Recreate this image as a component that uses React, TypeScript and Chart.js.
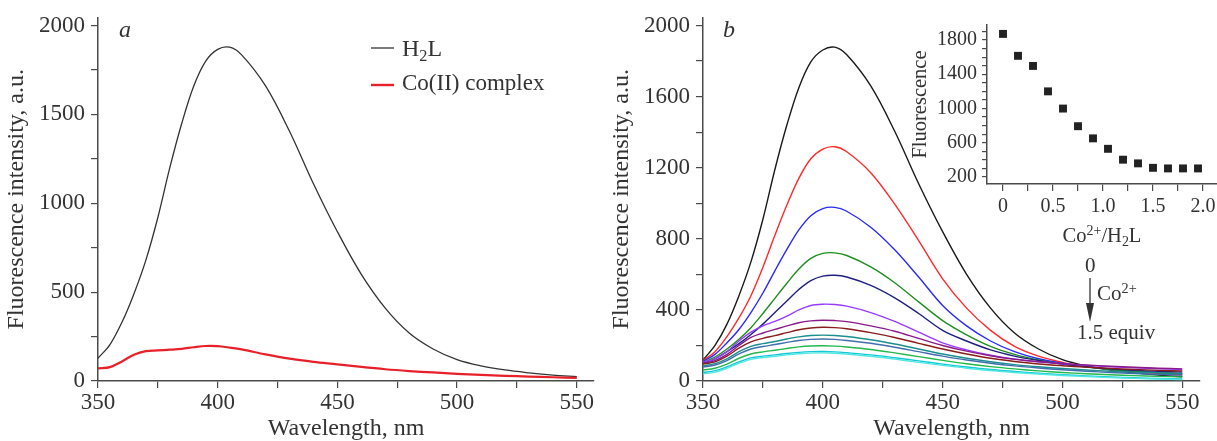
import React, { useEffect, useRef } from 'react';
import { Chart, registerables } from 'chart.js';

Chart.register(...registerables);

const FONT = '"Liberation Serif", "Times New Roman", serif';

// ---------- data ----------
const wavelengths = [350, 355, 360, 365, 370, 375, 380, 385, 390, 395, 400, 405, 410, 420, 430, 440, 450, 460, 470, 480, 490, 500, 510, 520, 530, 540, 550];

// panel a
const h2lSpectrum = [128, 205, 330, 490, 680, 920, 1200, 1450, 1660, 1800, 1866, 1878, 1835, 1660, 1405, 1110, 840, 600, 410, 270, 180, 120, 85, 62, 46, 33, 24];
const coComplexSpectrum = [71, 78, 110, 148, 168, 172, 176, 181, 190, 197, 196, 188, 178, 150, 126, 108, 94, 79, 66, 56, 48, 40, 34, 29, 25, 21, 18];

// panel b (titration spectra, 0 -> 1.5 equiv Co2+)
const titration0 = [118, 200, 320, 480, 670, 910, 1190, 1440, 1650, 1795, 1862, 1878, 1835, 1660, 1405, 1110, 840, 600, 410, 270, 180, 120, 85, 62, 46, 33, 24];
const titration1 = [115, 165, 250, 355, 480, 640, 820, 990, 1140, 1250, 1305, 1318, 1290, 1172, 995, 790, 575, 410, 285, 195, 140, 105, 82, 65, 52, 42, 35];
const titration2 = [110, 150, 215, 290, 385, 495, 620, 740, 850, 930, 970, 977, 955, 865, 738, 585, 425, 310, 225, 165, 125, 100, 80, 66, 55, 47, 40];
const titration3 = [105, 135, 180, 235, 300, 380, 465, 550, 630, 690, 718, 721, 706, 642, 553, 445, 340, 260, 195, 150, 118, 95, 78, 65, 55, 47, 40];
const titration4 = [100, 125, 165, 210, 262, 320, 385, 450, 515, 565, 590, 595, 585, 538, 468, 380, 285, 225, 175, 140, 115, 95, 80, 68, 60, 54, 50];
const titration5 = [105, 125, 165, 225, 275, 310, 335, 365, 400, 425, 432, 430, 421, 385, 335, 275, 215, 175, 145, 123, 108, 97, 88, 80, 74, 69, 65];
const titration6 = [100, 115, 150, 200, 245, 270, 290, 310, 328, 338, 342, 340, 334, 310, 280, 240, 200, 168, 142, 122, 108, 98, 90, 83, 77, 72, 68];
const titration7 = [95, 108, 140, 185, 220, 240, 255, 272, 288, 298, 302, 300, 294, 272, 245, 212, 180, 152, 128, 110, 96, 86, 78, 71, 65, 60, 56];
const titration8 = [85, 98, 125, 165, 195, 210, 222, 236, 248, 256, 258, 256, 250, 232, 208, 180, 152, 128, 108, 92, 80, 70, 62, 55, 50, 46, 43];
const titration9 = [78, 90, 115, 152, 180, 194, 205, 217, 228, 234, 236, 234, 228, 212, 190, 165, 140, 118, 100, 85, 73, 63, 55, 48, 42, 37, 33];
const titration10 = [62, 72, 95, 128, 152, 164, 173, 183, 192, 197, 198, 196, 191, 177, 158, 137, 116, 97, 81, 68, 57, 48, 41, 35, 30, 26, 23];
const titration11 = [48, 58, 80, 108, 130, 140, 147, 155, 161, 165, 166, 164, 159, 147, 131, 113, 95, 79, 65, 54, 44, 36, 29, 23, 18, 14, 11];
const titration12 = [40, 50, 72, 100, 122, 132, 139, 147, 153, 157, 158, 156, 151, 139, 123, 105, 88, 72, 59, 48, 39, 31, 25, 19, 15, 11, 8];

const titrationSeries = [titration0, titration1, titration2, titration3, titration4, titration5, titration6, titration7, titration8, titration9, titration10, titration11, titration12];
const titrationColors = ['#1a1a1a', '#ff2a2a', '#2a2aff', '#1f8f1f', '#1f1f80', '#9a3cff', '#8a1a8a', '#8b1c1c', '#1a8f8f', '#3f6fae', '#22b84a', '#10c8d8', '#50e8e0'];

// inset
const insetRatio = [0, 0.15, 0.3, 0.45, 0.6, 0.75, 0.9, 1.05, 1.2, 1.35, 1.5, 1.65, 1.8, 1.95];
const insetFluorescence = [1871, 1615, 1497, 1200, 999, 793, 651, 529, 402, 359, 307, 300, 300, 300];

// ticks
const xTicks = [350, 375, 400, 425, 450, 475, 500, 525, 550];
const xMajor = [350, 400, 450, 500, 550];
const yTicksA = [0, 250, 500, 750, 1000, 1250, 1500, 1750, 2000];
const yMajorA = [0, 500, 1000, 1500, 2000];
const yTicksB = [0, 200, 400, 600, 800, 1000, 1200, 1400, 1600, 1800, 2000];
const yMajorB = [0, 400, 800, 1200, 1600, 2000];
const insetXTicks = [0, 0.25, 0.5, 0.75, 1.0, 1.25, 1.5, 1.75, 2.0];
const insetXMajor = [0, 0.5, 1.0, 1.5, 2.0];
const insetYTicks = [200, 300, 400, 500, 600, 700, 800, 900, 1000, 1100, 1200, 1300, 1400, 1500, 1600, 1700, 1800, 1900];
const insetYMajor = [200, 600, 1000, 1400, 1800];

// ---------- helpers ----------
const AXIS_COLOR = '#4a4a4a';
const TEXT_COLOR = '#333';

function axis(opts: any) {
  const {
    pos, min, max, ticks, major, size, fit, tickLength, pad, title, titleSize, titlePad, fmt,
  } = opts;
  return {
    type: 'linear',
    position: pos,
    min,
    max,
    bounds: 'data',
    afterBuildTicks: (s: any) => {
      s.ticks = ticks.map((v: number) => ({ value: v }));
    },
    afterFit: (s: any) => {
      if (pos === 'left') s.width = fit;
      else s.height = fit;
    },
    grid: {
      drawOnChartArea: false,
      drawTicks: true,
      tickLength,
      color: AXIS_COLOR,
      lineWidth: 1.2,
    },
    border: { display: true, color: AXIS_COLOR, width: 1.5 },
    ticks: {
      autoSkip: false,
      maxRotation: 0,
      minRotation: 0,
      padding: pad,
      color: TEXT_COLOR,
      font: { family: FONT, size, lineHeight: 1 },
      callback: (v: number) => (major.includes(v) ? (fmt ? fmt(v) : String(v)) : ''),
    },
    title: title
      ? {
          display: true,
          text: title,
          color: TEXT_COLOR,
          font: { family: FONT, size: titleSize, lineHeight: 1 },
          padding: titlePad,
        }
      : { display: false },
  };
}

function useChart(ref: any, config: any) {
  useEffect(() => {
    const chart = new Chart(ref.current, config);
    return () => chart.destroy();
  }, []);
}

const baseOptions = {
  responsive: false,
  maintainAspectRatio: false,
  animation: false,
  devicePixelRatio: 1,
  plugins: { legend: { display: false }, tooltip: { enabled: false } },
};

function PanelA() {
  const ref = useRef<HTMLCanvasElement>(null);
  useChart(ref, {
    type: 'line',
    data: {
      datasets: [
        {
          data: wavelengths.map((w, i) => ({ x: w, y: coComplexSpectrum[i] })),
          borderColor: '#e8202a',
          borderWidth: 2.2,
          pointRadius: 0,
          tension: 0.35,
        },
        {
          data: wavelengths.map((w, i) => ({ x: w, y: h2lSpectrum[i] })),
          borderColor: '#333',
          borderWidth: 1.3,
          pointRadius: 0,
          tension: 0.35,
        },
      ],
    },
    options: {
      ...baseOptions,
      layout: { padding: { left: 0, top: 17, right: 16, bottom: 0 } },
      scales: {
        x: axis({ pos: 'bottom', min: 350, max: 557.2, ticks: xTicks, major: xMajor, size: 23, fit: 60, tickLength: 7, pad: 3, title: 'Wavelength, nm', titleSize: 24, titlePad: { top: 0, bottom: 0 } }),
        y: axis({ pos: 'left', min: 0, max: 2045, ticks: yTicksA, major: yMajorA, size: 23, fit: 98, tickLength: 7, pad: 6, title: 'Fluorescence intensity, a.u.', titleSize: 24, titlePad: { top: 5, bottom: 0 } }),
      },
    },
  });
  return <canvas ref={ref} width={610} height={441} style={{ position: 'absolute', left: 0, top: 0, width: 610, height: 441 }} />;
}

function PanelB() {
  const ref = useRef<HTMLCanvasElement>(null);
  const datasets = titrationSeries
    .map((s, k) => ({
      data: wavelengths.map((w, i) => ({ x: w, y: s[i] })),
      borderColor: titrationColors[k],
      borderWidth: 1.4,
      pointRadius: 0,
      tension: 0.35,
    }))
    .reverse();
  useChart(ref, {
    type: 'line',
    data: { datasets },
    options: {
      ...baseOptions,
      layout: { padding: { left: 0, top: 17, right: 17, bottom: 0 } },
      scales: {
        x: axis({ pos: 'bottom', min: 350, max: 557.4, ticks: xTicks, major: xMajor, size: 23, fit: 60, tickLength: 7, pad: 3, title: 'Wavelength, nm', titleSize: 24, titlePad: { top: 0, bottom: 0 } }),
        y: axis({ pos: 'left', min: 0, max: 2045, ticks: yTicksB, major: yMajorB, size: 23, fit: 98, tickLength: 7, pad: 6, title: 'Fluorescence intensity, a.u.', titleSize: 24, titlePad: { top: 5, bottom: 0 } }),
      },
    },
  });
  return <canvas ref={ref} width={612} height={441} style={{ position: 'absolute', left: 605, top: 0, width: 612, height: 441 }} />;
}

function Inset() {
  const ref = useRef<HTMLCanvasElement>(null);
  useChart(ref, {
    type: 'scatter',
    data: {
      datasets: [
        {
          data: insetRatio.map((r, i) => ({ x: r, y: insetFluorescence[i] })),
          backgroundColor: '#222',
          borderColor: '#222',
          borderWidth: 0,
          pointStyle: 'rect',
          pointRadius: 5.6,
        },
      ],
    },
    options: {
      ...baseOptions,
      layout: { padding: { left: 0, top: 25, right: 8, bottom: 0 } },
      scales: {
        x: axis({ pos: 'bottom', min: -0.16, max: 2.14, ticks: insetXTicks, major: insetXMajor, size: 20, fit: 66, tickLength: 7, pad: 6, fmt: (v: number) => (v === 0 ? '0' : v.toFixed(1)) }),
        y: axis({ pos: 'left', min: 118, max: 1975, ticks: insetYTicks, major: insetYMajor, size: 20, fit: 107, tickLength: 5, pad: 5, title: 'Fluorescence', titleSize: 20.5, titlePad: { top: 30, bottom: 0 } }),
      },
    },
  });
  return <canvas ref={ref} width={345} height={250} style={{ position: 'absolute', left: 880, top: 0, width: 345, height: 250 }} />;
}

const textBase: any = {
  position: 'absolute',
  fontFamily: FONT,
  color: TEXT_COLOR,
  lineHeight: 1,
  whiteSpace: 'nowrap',
};
const sup: any = { fontSize: '0.68em', position: 'relative', top: '-0.5em' };
const sub: any = { fontSize: '0.68em', position: 'relative', top: '0.3em' };

export default function App() {
  return (
    <div style={{ position: 'fixed', left: 0, top: 0, width: 1217, height: 441, overflow: 'hidden', background: '#fff' }}>
      <PanelA />
      <PanelB />
      <Inset />
      <svg width={1217} height={441} style={{ position: 'absolute', left: 0, top: 0, pointerEvents: 'none' }}>
        <line x1={371} y1={48} x2={394} y2={48} stroke="#333" strokeWidth={1.3} />
        <line x1={371} y1={85} x2={394} y2={85} stroke="#e8202a" strokeWidth={2.4} />
        <line x1={1090} y1={278} x2={1090} y2={308} stroke="#333" strokeWidth={1.3} />
        <polygon points="1086,303 1094,303 1090,322" fill="#333" />
      </svg>
      <span style={{ ...textBase, left: 119, top: 17, fontSize: 24, fontStyle: 'italic' }}>a</span>
      <span style={{ ...textBase, left: 723, top: 17, fontSize: 24, fontStyle: 'italic' }}>b</span>
      <span style={{ ...textBase, left: 402, top: 36, fontSize: 24 }}>
        H<span style={sub}>2</span>L
      </span>
      <span style={{ ...textBase, left: 402, top: 71, fontSize: 23 }}>Co(II) complex</span>
      <span style={{ ...textBase, left: 1085, top: 255, fontSize: 21 }}>0</span>
      <span style={{ ...textBase, left: 1097, top: 283, fontSize: 21 }}>
        Co<span style={sup}>2+</span>
      </span>
      <span style={{ ...textBase, left: 1077, top: 322, fontSize: 21 }}>1.5 equiv</span>
      <span style={{ ...textBase, left: 1102, top: 225, fontSize: 20.5, transform: 'translateX(-50%)' }}>
        Co<span style={sup}>2+</span>/H<span style={sub}>2</span>L
      </span>
    </div>
  );
}
